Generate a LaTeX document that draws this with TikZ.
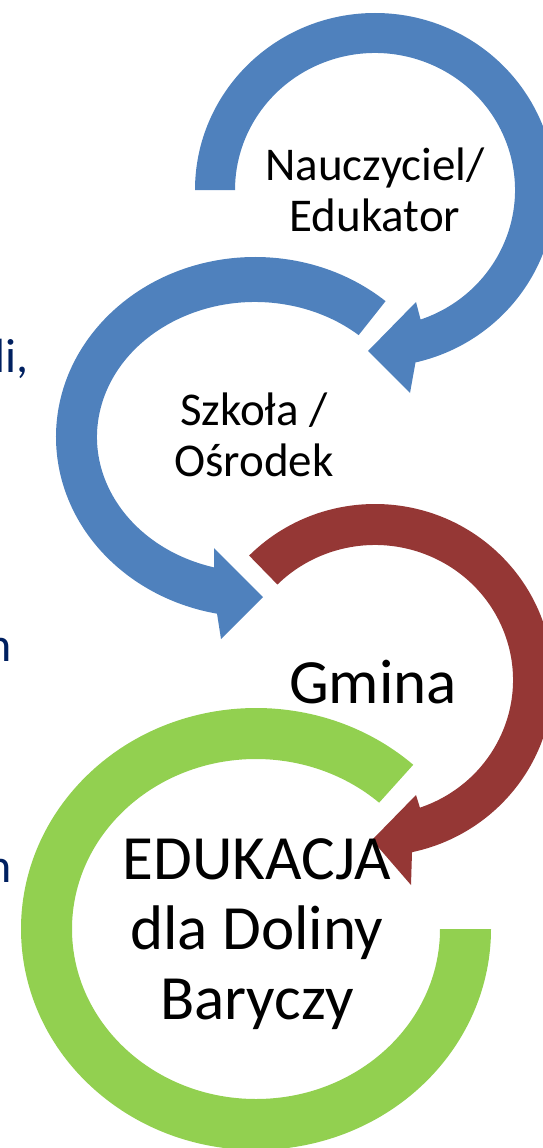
\documentclass[tikz,border=0pt]{standalone}
\usepackage{fontspec}
\setmainfont{Carlito}
\usetikzlibrary{calc}

\definecolor{ringblue}{HTML}{4F81BD}
\definecolor{ringred}{HTML}{953735}
\definecolor{ringgreen}{HTML}{92D050}
\definecolor{slidenavy}{HTML}{002060}

\begin{document}
\begin{tikzpicture}[x=1pt, y=1pt,
  ringtext/.style = {align=center, inner sep=0pt, text=black},
  smalltext/.style = {font=\fontsize{47}{51}\selectfont},
  bigtext/.style = {font=\fontsize{63}{70}\selectfont},
  edgetext/.style = {inner sep=0pt, anchor=base east, text=slidenavy,
    font=\fontsize{48}{56}\selectfont}]
  \useasboundingbox (0,0) rectangle (543,-1148);
  \clip (0,0) rectangle (543,-1148);
  \coordinate (top) at (375,-190);
  \coordinate (mid) at (255,-437);
  \coordinate (low) at (375,-680);
  \coordinate (base) at (256,-929);

  % rings
  \fill[ringblue] ($(top)+(180:180 and 177)$)
    arc[start angle=180, end angle=-77, x radius=180, y radius=177]
    -- (410,-393) -- (368,-351) -- (416,-302)
    -- ($(top)+(-71:140 and 137)$)
    arc[start angle=-71, end angle=180, x radius=140, y radius=137] -- cycle;
  \fill[ringblue] ($(mid)+(49:199 and 180)$)
    arc[start angle=49, end angle=259, x radius=199, y radius=180]
    -- (221,-639) -- (263,-597) -- (214,-548)
    -- ($(mid)+(255:158 and 135)$)
    arc[start angle=255, end angle=49, x radius=158, y radius=135] -- cycle;
  \fill[ringred] ($(low)+(135:178 and 176)$)
    arc[start angle=135, end angle=-78, x radius=178, y radius=176]
    -- (411,-885) -- (372,-840) -- (416,-795)
    -- ($(low)+(-71:138 and 135)$)
    arc[start angle=-71, end angle=135, x radius=138, y radius=135] -- cycle;
  \fill[ringgreen] ($(base)+(48:235 and 221)$)
    arc[start angle=48, end angle=360, x radius=235, y radius=221]
    -- ($(base)+(0:184 and 170)$)
    arc[start angle=360, end angle=48, x radius=184, y radius=170] -- cycle;

  % texts
  \node[ringtext, smalltext] (teacher) at (375,-190) {Nauczyciel/\\Edukator};
  \node[ringtext, smalltext] (school) at (254,-435) {Szkoła /\\Ośrodek};
  \node[ringtext, bigtext, anchor=base] (commune) at (373,-703) {Gmina};
  \node[ringtext, bigtext] (education) at (257,-934) {EDUKACJA\\dla Doliny\\Baryczy};

  \node[edgetext] (frag1) at (29,-372) {li,};
  \node[edgetext] (frag2) at (12,-661) {n};
  \node[edgetext] (frag3) at (12,-882) {n};
\end{tikzpicture}
\end{document}
